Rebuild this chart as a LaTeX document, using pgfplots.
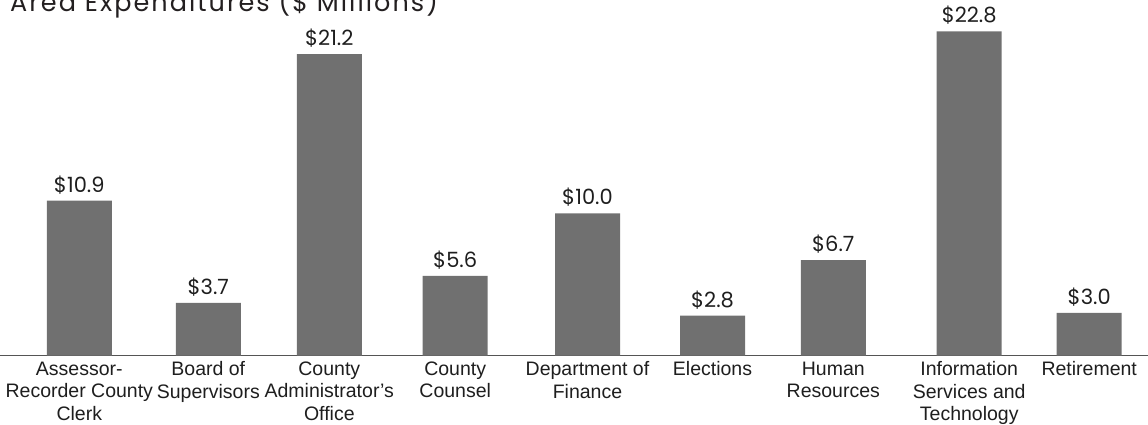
\documentclass[border=0pt]{standalone}
\usepackage{fontspec}
\setmainfont{Liberation Sans}
\newfontfamily\pop{Poppins}
\newfontfamily\poptitle[LetterSpace=8]{Poppins}
\usepackage{pgfplots}
\pgfplotsset{compat=1.18}
\definecolor{barc}{RGB}{112,112,112}
\definecolor{axc}{RGB}{85,85,85}
\definecolor{txt}{RGB}{30,30,30}
\definecolor{titlec}{RGB}{35,31,32}
\begin{document}
\begin{tikzpicture}
\begin{axis}[
  at={(0bp,69.5bp)}, anchor=south west,
  width=1148bp, height=355.5bp, scale only axis,
  xmin=0, xmax=1148, ymin=0, ymax=25.0,
  axis x line*=bottom, axis y line=none,
  x axis line style={color=axc, line width=1.2bp},
  ytick=\empty,
  /pgf/number format/assume math mode=true,
  xtick={79.3,208.3,329.3,455.2,587.5,712.5,833.3,969.2,1089.2},
  xticklabels={{Assessor-\\Recorder County\\Clerk},{Board of\\Supervisors},{County\\Administrator’s\\Office},{County\\Counsel},{Department of\\Finance},{Elections},{Human\\Resources},{Information\\Services and\\Technology},{Retirement}},
  major tick length=0pt,
  xticklabel style={align=center, anchor=north, inner sep=0pt, yshift=-6bp, text=txt,
    font=\fontsize{19.5bp}{22.5bp}\selectfont},
  ybar, bar width=65bp,
  nodes near coords={\$\pgfmathprintnumber[fixed,fixed zerofill,precision=1,assume math mode=true]{\pgfplotspointmeta}},
  every node near coord/.append style={anchor=base, inner sep=0pt, yshift=8.5bp, text=txt,
    font=\pop\fontsize{21bp}{24bp}\selectfont},
  clip=false,
]
\addplot[fill=barc, draw=none] table {
x y
79.3 10.9
208.3 3.7
329.3 21.2
455.2 5.6
587.5 10.0
712.5 2.8
833.3 6.7
969.2 22.8
1089.2 3.0
};
\end{axis}
\node[anchor=base west, inner sep=0pt, text=titlec, font=\poptitle\fontsize{25.5bp}{28bp}\selectfont] at (10bp,413bp) {Area Expenditures (\$ Millions)};
\pgfresetboundingbox
\path[use as bounding box] (0,0) rectangle (1148bp,425bp);
\end{tikzpicture}
\end{document}
